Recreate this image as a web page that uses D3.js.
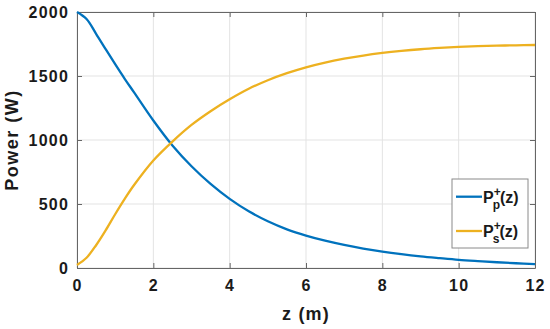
<!DOCTYPE html>
<html>
<head>
<meta charset="utf-8">
<script src="https://cdn.jsdelivr.net/npm/d3@7"></script>
<style>
  body { margin: 0; background: #fff; }
  text { font-family: "Liberation Sans", Arial, sans-serif; font-weight: bold; fill: #1a1a1a; }
</style>
</head>
<body>
<div class="chart"></div>
<script>
// Chart data
var zValues = [0, 0.25, 0.5, 0.75, 1, 1.25, 1.5, 2, 2.5, 3, 3.5, 4, 4.5, 5, 5.5, 6, 6.5, 7, 7.5, 8, 8.5, 9, 9.5, 10, 10.5, 11, 11.5, 12];
var pumpPower = [2000, 1945, 1830, 1710, 1592, 1478, 1370, 1152, 957, 795, 657, 540, 443, 365, 302, 253, 213, 180, 152, 128, 108, 91, 77, 64, 54, 45, 37, 30];
var signalPower = [23, 80, 178, 294, 420, 540, 650, 840, 988, 1118, 1225, 1318, 1400, 1467, 1522, 1568, 1605, 1635, 1660, 1680, 1696, 1709, 1719, 1727, 1733, 1737, 1740, 1742];
var xTicks = [0, 2, 4, 6, 8, 10, 12];
var yTicks = [0, 500, 1000, 1500, 2000];
var seriesNames = [{ main: "P", sup: "+", sub: "p" }, { main: "P", sup: "+", sub: "s" }];
var seriesColors = ["#0072BD", "#EDB120"];

var svgWidth = 550;
var svgHeight = 329;

var margin = {
    top: 12,
    bottom: 61,
    right: 15,
    left: 77
};

var width = svgWidth - margin.left - margin.right;
var height = svgHeight - margin.top - margin.bottom;

var svg = d3.select(".chart")
    .append("svg")
    .attr("width", svgWidth)
    .attr("height", svgHeight);

var chartGroup = svg.append("g")
    .attr("transform", `translate(${margin.left}, ${margin.top})`);

// Scales
var xScale = d3.scaleLinear().domain([0, 12]).range([0, width]);
var yScale = d3.scaleLinear().domain([0, 2000]).range([height, 0]);

// Grid
chartGroup.append("g")
    .selectAll("line.gx")
    .data(xTicks)
    .enter()
    .append("line")
    .attr("x1", d => xScale(d)).attr("x2", d => xScale(d))
    .attr("y1", 0).attr("y2", height)
    .attr("stroke", "#e3e3e3").attr("stroke-width", 1);

chartGroup.append("g")
    .selectAll("line.gy")
    .data(yTicks)
    .enter()
    .append("line")
    .attr("x1", 0).attr("x2", width)
    .attr("y1", d => yScale(d)).attr("y2", d => yScale(d))
    .attr("stroke", "#e3e3e3").attr("stroke-width", 1);

// Axes (ticks inside, box all round)
function styleAxis(g, showText) {
    g.select(".domain").attr("stroke", "#666");
    g.selectAll(".tick line").attr("stroke", "#666");
    g.selectAll(".tick text")
        .attr("font-size", 16)
        .attr("letter-spacing", 1.2)
        .style("fill", "#1a1a1a")
        .attr("display", showText ? null : "none");
}

var fmt = d3.format("d");
var bottomAxis = d3.axisBottom(xScale).tickValues(xTicks).tickFormat(fmt).tickSizeInner(-5).tickSizeOuter(0).tickPadding(12);
var leftAxis = d3.axisLeft(yScale).tickValues(yTicks).tickFormat(fmt).tickSizeInner(-5).tickSizeOuter(0).tickPadding(8);
var topAxis = d3.axisTop(xScale).tickValues(xTicks).tickSizeInner(-5).tickSizeOuter(0);
var rightAxis = d3.axisRight(yScale).tickValues(yTicks).tickSizeInner(-5).tickSizeOuter(0);

chartGroup.append("g").attr("transform", `translate(0, ${height})`).call(bottomAxis).call(g => styleAxis(g, true));
chartGroup.append("g").call(leftAxis).call(g => styleAxis(g, true));
chartGroup.append("g").call(topAxis).call(g => styleAxis(g, false));
chartGroup.append("g").attr("transform", `translate(${width}, 0)`).call(rightAxis).call(g => styleAxis(g, false));

// Lines
var lineGen = d3.line()
    .x(d => xScale(d[0]))
    .y(d => yScale(d[1]))
    .curve(d3.curveCatmullRom.alpha(0.5));

[pumpPower, signalPower].forEach(function(series, i) {
    chartGroup.append("path")
        .datum(zValues.map((z, j) => [z, series[j]]))
        .attr("d", lineGen)
        .attr("fill", "none")
        .attr("stroke", seriesColors[i])
        .attr("stroke-width", 2.3);
});

// Axis labels
chartGroup.append("text")
    .attr("transform", "rotate(-90)")
    .attr("x", -128)
    .attr("y", -59)
    .attr("text-anchor", "middle")
    .attr("font-size", 18)
    .attr("letter-spacing", 1.5)
    .text("Power (W)");

chartGroup.append("text")
    .attr("x", width / 2)
    .attr("y", height + 52)
    .attr("text-anchor", "middle")
    .attr("font-size", 18)
    .attr("letter-spacing", 1.2)
    .text("z (m)");

// Legend
var legend = svg.append("g").attr("transform", "translate(452, 179)");
legend.append("rect")
    .attr("width", 76).attr("height", 69)
    .attr("fill", "#fff").attr("stroke", "#8a8a8a").attr("stroke-width", 1);

seriesNames.forEach(function(s, i) {
    var ly = 17.7 + i * 34.3;
    legend.append("line")
        .attr("x1", 4).attr("x2", 30)
        .attr("y1", ly).attr("y2", ly)
        .attr("stroke", seriesColors[i]).attr("stroke-width", 2.3);
    var t = legend.append("text")
        .attr("x", 31)
        .attr("y", ly + 6)
        .attr("font-size", 16);
    t.append("tspan").text(s.main);
    t.append("tspan").attr("font-size", 12).attr("dy", -7).text(s.sup);
    t.append("tspan").attr("font-size", 12).attr("dx", -8).attr("dy", 13).text(s.sub);
    t.append("tspan").attr("dy", -6).text("(z)");
});
</script>
</body>
</html>
